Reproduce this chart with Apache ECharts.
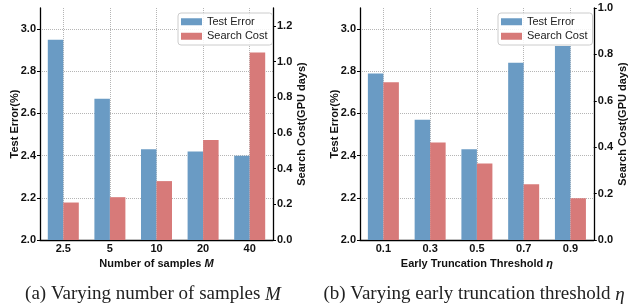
<!DOCTYPE html>
<html>
<head>
<meta charset="utf-8">
<script src="https://cdn.jsdelivr.net/npm/echarts@6/dist/echarts.min.js"></script>
<style>
  html, body { margin: 0; padding: 0; background: #fff; }
  #chart { width: 629px; height: 307px; }
</style>
</head>
<body>
<div id="chart"></div>
<script>
// data
const samplesCats = ['2.5', '5', '10', '20', '40'];
const samplesError = [2.95, 2.67, 2.43, 2.42, 2.40];
const samplesCost = [0.21, 0.24, 0.33, 0.56, 1.05];

const threshCats = ['0.1', '0.3', '0.5', '0.7', '0.9'];
const threshError = [2.79, 2.57, 2.43, 2.84, 2.92];
const threshCost = [0.68, 0.42, 0.33, 0.24, 0.18];

const blue = '#6a9bc4';
const red = '#d77a79';
const font = 'Liberation Sans';
const gridPad = ['0', '1', '2', '3', '4', '5', '6', '7', '8', '9', '10'];

let chart = echarts.init(document.getElementById('chart'));

function catAxis(grid, cats, name) {
  return {
    type: 'category', gridIndex: grid, data: cats,
    name: name, nameLocation: 'middle', nameGap: 14,
    nameTextStyle: {
      fontFamily: font, fontWeight: 'bold', fontSize: 11, color: '#111',
      rich: { i: { fontFamily: font, fontStyle: 'italic', fontSize: 11, color: '#111' } }
    },
    axisLine: { lineStyle: { color: '#000', width: 1.3 } },
    axisTick: { show: false },
    axisLabel: { fontFamily: font, fontWeight: 'bold', fontSize: 11, color: '#111', margin: 3 },
    splitLine: { show: false }
  };
}
// extra axis only for the dotted vertical grid lines at bar group centres
function vGridAxis(grid) {
  return {
    type: 'category', gridIndex: grid, data: gridPad, boundaryGap: false, position: 'top',
    axisLine: { show: false }, axisTick: { show: false }, axisLabel: { show: false },
    splitLine: {
      show: true, interval: function (i) { return i % 2 === 1; },
      lineStyle: { color: '#b5b5b5', type: 'dotted', width: 1 }
    }
  };
}
function errAxis(grid) {
  return {
    type: 'value', gridIndex: grid, min: 2.0, max: 3.1, interval: 0.2, position: 'left',
    name: 'Test Error(%)', nameLocation: 'middle', nameGap: 20, nameRotate: 90, nameMoveOverlap: false,
    nameTextStyle: { fontFamily: font, fontWeight: 'bold', fontSize: 11, color: '#111' },
    axisLine: { show: true, lineStyle: { color: '#000', width: 1.3 } },
    axisTick: { show: true, length: 3, lineStyle: { color: '#000' } },
    axisLabel: {
      fontFamily: font, fontWeight: 'bold', fontSize: 11, color: '#111', margin: 4,
      showMaxLabel: false, formatter: v => v.toFixed(1)
    },
    splitLine: { show: true, showMinLine: false, showMaxLine: false,
      lineStyle: { color: '#b5b5b5', type: 'dotted', width: 1 } }
  };
}
function costAxis(grid, max) {
  return {
    type: 'value', gridIndex: grid, min: 0, max: max, interval: 0.2, position: 'right',
    name: 'Search Cost(GPU days)', nameLocation: 'middle', nameGap: 19, nameRotate: 90,
    nameTextStyle: { fontFamily: font, fontWeight: 'bold', fontSize: 11, color: '#111' },
    axisLine: { show: true, lineStyle: { color: '#000', width: 1.3 } },
    axisTick: { show: true, length: 3, lineStyle: { color: '#000' } },
    axisLabel: {
      fontFamily: font, fontWeight: 'bold', fontSize: 11, color: '#111', margin: 4,
      showMaxLabel: max === 1.0, formatter: v => v.toFixed(1)
    },
    splitLine: { show: false }
  };
}
function legendAt(left) {
  return {
    data: ['Test Error', 'Search Cost'], orient: 'vertical', left: left, top: 13,
    itemWidth: 21, itemHeight: 7, itemGap: 1, padding: [2, 5, 2, 3],
    backgroundColor: 'rgba(255,255,255,0.85)', borderColor: '#cccccc', borderWidth: 1, borderRadius: 3,
    textStyle: { fontFamily: font, fontSize: 11, color: '#222', lineHeight: 13.5 },
    icon: 'rect'
  };
}
function bar(name, color, data, xi, yi) {
  return {
    name: name, type: 'bar', data: data, xAxisIndex: xi, yAxisIndex: yi,
    barWidth: 15.5, barGap: '0%', itemStyle: { color: color }, silent: true
  };
}

const captionStyle = {
  fontFamily: 'Liberation Serif', fontWeight: 'normal', fontSize: 19, color: '#222',
  rich: { i: { fontFamily: 'Liberation Serif', fontStyle: 'italic', fontSize: 19, color: '#222' } }
};

let option = {
  animation: false,
  grid: [
    { left: 40, right: 356, top: 8, bottom: 67 },
    { left: 360, right: 35, top: 8, bottom: 67 }
  ],
  title: [
    { text: '(a) Varying number of samples {i|M}', left: 148, top: 280, textAlign: 'center', textStyle: captionStyle },
    { text: '(b) Varying early truncation threshold {i|η}', left: 469, top: 280, textAlign: 'center', textStyle: captionStyle }
  ],
  legend: [legendAt(178), legendAt(498)],
  xAxis: [
    catAxis(0, samplesCats, 'Number of samples {i|M}'),
    catAxis(1, threshCats, 'Early Truncation Threshold {i|η}'),
    vGridAxis(0),
    vGridAxis(1)
  ],
  yAxis: [
    errAxis(0), costAxis(0, 1.3),
    errAxis(1), costAxis(1, 1.0)
  ],
  series: [
    bar('Test Error', blue, samplesError, 0, 0),
    bar('Search Cost', red, samplesCost, 0, 1),
    bar('Test Error', blue, threshError, 1, 2),
    bar('Search Cost', red, threshCost, 1, 3)
  ]
};
chart.setOption(option);
</script>
</body>
</html>
